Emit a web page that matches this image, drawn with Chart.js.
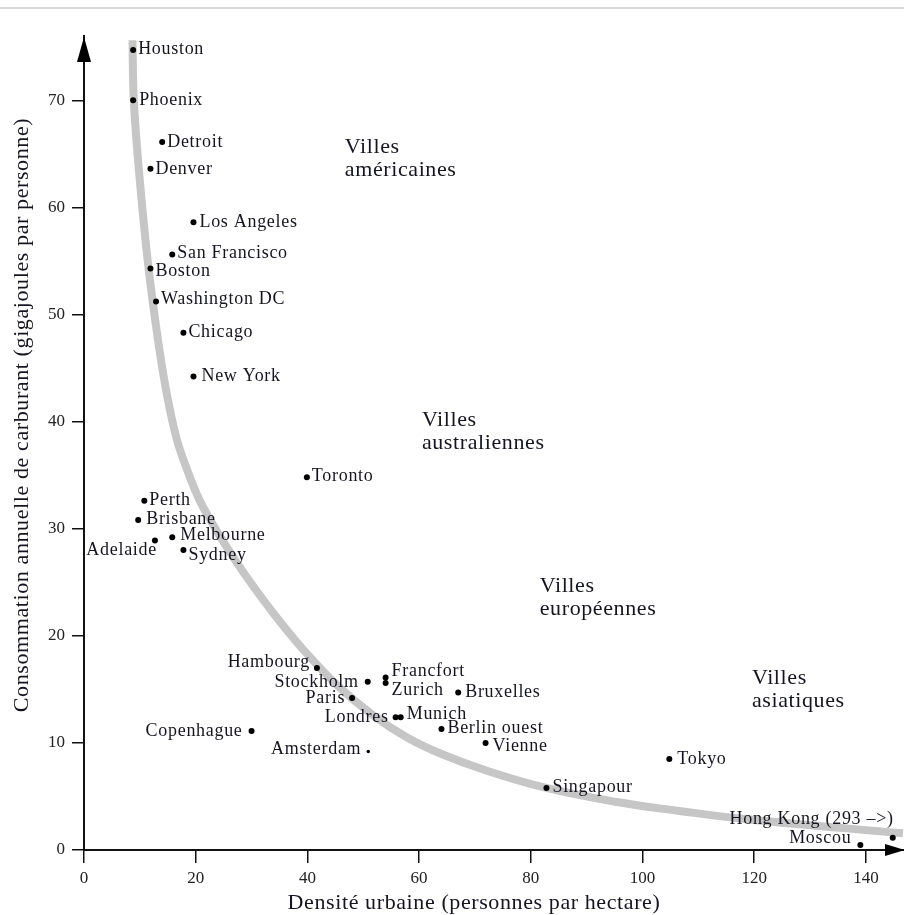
<!DOCTYPE html>
<html><head><meta charset="utf-8">
<script src="https://cdn.jsdelivr.net/npm/chart.js@4/dist/chart.umd.min.js"></script>
<style>
html,body{margin:0;padding:0;background:#fff;}
#wrap{position:relative;width:904px;height:915px;overflow:hidden;}
#rule{position:absolute;left:0;top:7px;width:904px;height:0;border-top:2px solid #d8d8d8;}
canvas{position:absolute;left:0;top:0;}
</style>
</head><body>
<div id="wrap"><div id="rule"></div><canvas id="c" width="904" height="915"></canvas></div>
<script>
// ---- data ----
const cities = ['Houston','Phoenix','Detroit','Denver','Los Angeles','San Francisco','Boston','Washington DC','Chicago','New York','Toronto','Perth','Brisbane','Adelaide','Melbourne','Sydney','Hambourg','Stockholm','Francfort','Zurich','Paris','Londres','Munich','Bruxelles','Copenhague','Amsterdam','Berlin ouest','Vienne','Singapour','Tokyo','Hong Kong (293 –>)','Moscou'];
const density = [8.8,8.8,14.0,11.9,19.6,15.8,11.9,12.9,17.8,19.6,39.9,10.8,9.7,12.7,15.8,17.8,41.7,50.8,54.0,54.0,48.0,55.8,56.7,67.0,30.0,50.9,64.0,71.9,82.8,104.8,144.8,139.0];
const fuel = [74.7,70.0,66.1,63.6,58.6,55.6,54.3,51.2,48.3,44.2,34.8,32.6,30.8,28.9,29.2,28.0,17.0,15.7,16.1,15.6,14.2,12.4,12.4,14.7,11.1,9.2,11.3,10.0,5.8,8.5,1.15,0.47];
// grey trend band
const curveX = [8.68,8.92,9.85,11.46,13.25,14.86,16.65,18.62,20.59,22.20,25.42,29.00,34.01,39.33,45.47,51.92,58.00,64.02,71.75,82.40,95.38,105.98,119.05,146.63];
const curveY = [75.6,70.0,63.35,54.76,47.62,42.48,38.28,35.29,32.77,31.19,28.39,25.58,22.04,18.67,15.31,12.51,10.46,8.96,7.47,5.84,4.48,3.69,2.85,1.56];
const xTicks = [0,20,40,60,80,100,120,140];
const yTicks = [0,10,20,30,40,50,60,70];
const groupLines = [['Villes','américaines'],['Villes','australiennes'],['Villes','européennes'],['Villes','asiatiques']];
const groupX = [46.7,60.5,81.6,119.6];
const groupY = [65.1,39.6,24.1,15.5];
const xTitle = 'Densité urbaine (personnes par hectare)';
const yTitle = 'Consommation annuelle de carburant (gigajoules par personne)';

// ---- label placement (style) ----
const place = {
 'Houston':['r',5,-1],'Phoenix':['r',6,0],'Detroit':['r',5,0],'Denver':['r',5,0],
 'Los Angeles':['r',6,0],'San Francisco':['r',5,-1],'Boston':['r',5,3],'Washington DC':['r',5,-2],
 'Chicago':['r',5,0],'New York':['r',8,0],'Toronto':['r',5,-1],'Perth':['r',5,-1],
 'Brisbane':['r',8,-1],'Adelaide':['l',2,10],'Melbourne':['r',8,-2],'Sydney':['r',5,5],
 'Hambourg':['l',-7,-6],'Stockholm':['l',-9,0],'Francfort':['r',6,-6],'Zurich':['r',6,7],
 'Paris':['l',-7,0],'Londres':['l',-7,0],'Munich':['r',6,-3],'Bruxelles':['r',7,0],
 'Copenhague':['l',-9,0],'Amsterdam':['l',-7,-2],'Berlin ouest':['r',6,-1],'Vienne':['r',7,3],
 'Singapour':['r',6,-1],'Tokyo':['r',8,0],'Hong Kong (293 –>)':['l',1,-18],'Moscou':['l',-9,-7]
};
const SERIF = '"Liberation Serif","DejaVu Serif","Times New Roman",serif';
const INK = '#15151f';

const deco = {
 id:'deco',
 afterDraw(chart){
  const {ctx, chartArea:a, scales:{x,y}} = chart;
  ctx.save();
  // city labels
  ctx.fillStyle = INK;
  ctx.font = '18px '+SERIF;
  try{ ctx.letterSpacing='0.7px'; }catch(e){}
  ctx.textBaseline = 'middle';
  cities.forEach((c,i)=>{
    const p = place[c] || ['r',5,0];
    const px = x.getPixelForValue(density[i]), py = y.getPixelForValue(fuel[i]);
    ctx.textAlign = p[0]==='r' ? 'left' : 'right';
    ctx.fillText(c, px+p[1], py+p[2]);
  });
  // group labels
  try{ ctx.letterSpacing='0.6px'; }catch(e){}
  ctx.font = '22px '+SERIF;
  ctx.textAlign='left'; ctx.textBaseline='alphabetic';
  groupLines.forEach((lines,i)=>{
    const px = x.getPixelForValue(groupX[i]), py = y.getPixelForValue(groupY[i]);
    lines.forEach((t,j)=>ctx.fillText(t, px, py + j*23));
  });
  // axis titles
  ctx.font = '22px '+SERIF;
  ctx.textAlign='center'; ctx.textBaseline='middle';
  ctx.fillText(xTitle, 474, 903);
  ctx.save();
  ctx.translate(22, 415); ctx.rotate(-Math.PI/2);
  ctx.fillText(yTitle, 0, 0);
  ctx.restore();
  // axis line extension + arrows
  ctx.strokeStyle = '#111'; ctx.lineWidth = 2;
  ctx.beginPath(); ctx.moveTo(a.right-2, a.bottom); ctx.lineTo(a.right+4, a.bottom); ctx.stroke();
  ctx.fillStyle = '#000';
  ctx.beginPath();
  ctx.moveTo(a.left, a.top+1); ctx.lineTo(a.left-7, a.top+26); ctx.lineTo(a.left+7, a.top+26); ctx.closePath(); ctx.fill();
  ctx.beginPath();
  ctx.moveTo(a.right+5, a.bottom); ctx.lineTo(a.right-15, a.bottom-6); ctx.lineTo(a.right-15, a.bottom+6); ctx.closePath(); ctx.fill();
  ctx.restore();
 }
};

new Chart(document.getElementById('c'), {
 type:'scatter',
 data:{
  datasets:[
   {
    data: density.map((v,i)=>({x:v,y:fuel[i]})),
    backgroundColor:'#000', borderColor:'#000',
    pointRadius: c => cities[c.dataIndex]==='Amsterdam' ? 1.7 : 3,
    pointBorderWidth:0, order:0, clip:false
   },
   {
    data: curveX.map((v,i)=>({x:v,y:curveY[i]})),
    showLine:true, borderColor:'#c6c6c6', borderWidth:8,
    pointRadius:0, tension:0.4, order:1, borderCapStyle:'butt', borderJoinStyle:'round', clip:false
   }
  ]
 },
 options:{
  responsive:false, animation:false, devicePixelRatio:1,
  layout:{padding:{top:36,right:0,left:0,bottom:0}},
  plugins:{legend:{display:false}, tooltip:{enabled:false}},
  scales:{
   x:{
    type:'linear', min:0, max:146.1,
    afterFit:s=>{s.height=65;},
    afterBuildTicks:s=>{s.ticks = xTicks.map(v=>({value:v}));},
    grid:{drawOnChartArea:false, drawTicks:true, tickLength:13, color:'#111', lineWidth:1.5},
    border:{display:true, color:'#111', width:2},
    ticks:{font:{family:SERIF,size:17}, color:'#222', padding:5, maxRotation:0}
   },
   y:{
    type:'linear', min:0, max:76,
    afterFit:s=>{s.width=84;},
    afterBuildTicks:s=>{s.ticks = yTicks.map(v=>({value:v}));},
    grid:{drawOnChartArea:false, drawTicks:true, tickLength:12, color:'#111', lineWidth:1.5},
    border:{display:true, color:'#111', width:2},
    ticks:{font:{family:SERIF,size:17}, color:'#222', padding:7}
   }
  }
 },
 plugins:[deco]
});
</script>
</body></html>
